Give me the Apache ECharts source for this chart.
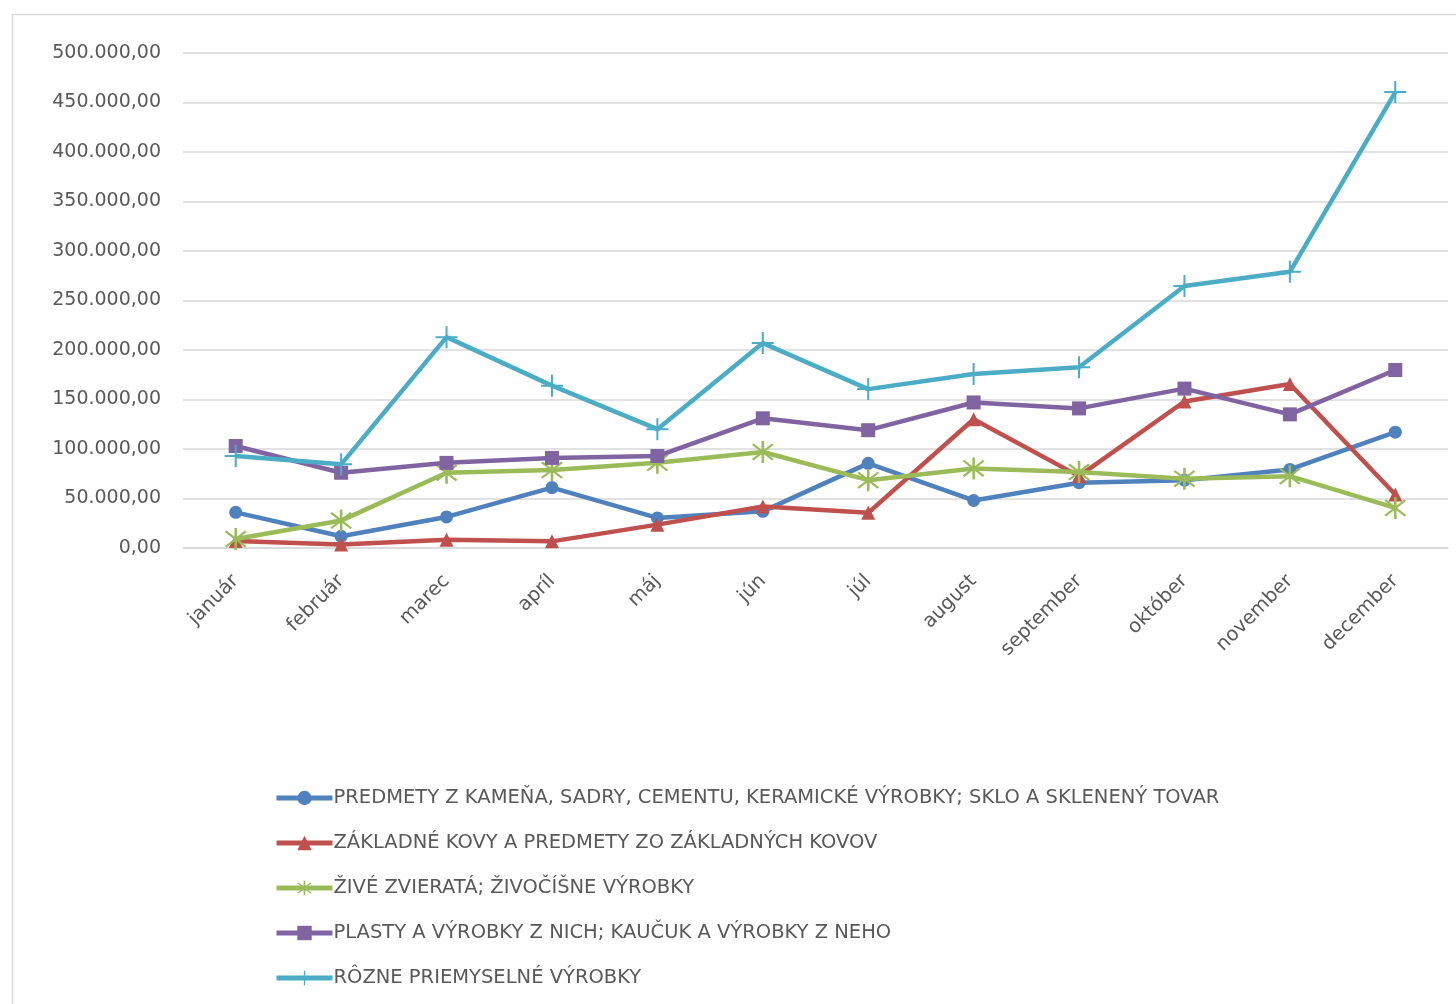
<!DOCTYPE html>
<html><head><meta charset="utf-8">
<script src="https://cdn.jsdelivr.net/npm/echarts@6/dist/echarts.min.js"></script>
<style>html,body{margin:0;padding:0;background:#fff}#c{width:1456px;height:1004px}</style>
</head><body><div id="c"></div>
<script>
const months = ['január','február','marec','apríl','máj','jún','júl','august','september','október','november','december'];
const seriesNames = [
  'PREDMETY Z KAMEŇA, SADRY, CEMENTU, KERAMICKÉ VÝROBKY; SKLO A SKLENENÝ TOVAR',
  'ZÁKLADNÉ KOVY A PREDMETY ZO ZÁKLADNÝCH KOVOV',
  'ŽIVÉ ZVIERATÁ; ŽIVOČÍŠNE VÝROBKY',
  'PLASTY A VÝROBKY Z NICH; KAUČUK A VÝROBKY Z NEHO',
  'RÔZNE PRIEMYSELNÉ VÝROBKY'
];
const kamen   = [36000, 11800, 31400, 61000, 30400, 37000, 85500, 48000, 66000, 68500, 79400, 117000];
const kovy    = [7000, 3500, 8400, 6700, 23600, 42000, 35500, 130000, 72600, 148000, 165600, 54000];
const zvierata= [9000, 27700, 76000, 78700, 86000, 97000, 68500, 80400, 76700, 70000, 72600, 40500];
const plasty  = [103000, 76000, 86000, 91000, 92900, 131000, 119000, 147000, 141000, 161000, 135000, 179800];
const rozne   = [92900, 84500, 213000, 164000, 120000, 207000, 160500, 175700, 182500, 264600, 279000, 460500];
const yTicks  = [0, 50000, 100000, 150000, 200000, 250000, 300000, 350000, 400000, 450000, 500000];

const colors = ['#4F81BD','#C0504D','#9BBB59','#8064A2','#4BACC6'];
const plusPath = 'path://M-1,-11L1,-11L1,-1L11,-1L11,1L1,1L1,11L-1,11L-1,1L-11,1L-11,-1L-1,-1Z';
const starPath = 'path://M-1,-11L1,-11L1,11L-1,11Z M-8.5,-7.1L-7.1,-8.5L8.5,7.1L7.1,8.5Z M7.1,-8.5L8.5,-7.1L-7.1,8.5L-8.5,7.1Z';

function fmt(v){
  const s = Math.round(v).toString().replace(/\B(?=(\d{3})+(?!\d))/g,'.');
  return s + ',00';
}
const font = '"DejaVu Sans", "Open Sans", sans-serif';
const data = [kamen, kovy, zvierata, plasty, rozne];
const symbols = ['circle','triangle',starPath,'rect',plusPath];
const sizes = [13, 14, 22, 14, 22];

const chart = echarts.init(document.getElementById('c'), null, {renderer:'canvas'});
chart.setOption({
  animation:false,
  backgroundColor:'#fff',
  color: colors,
  graphic:[{type:'rect', left:10, top:12, shape:{width:1480, height:1030}, style:{fill:'none', stroke:'#d9d9d9', lineWidth:1.5}, z:-1}],
  grid:{left:183, right:8, top:53, bottom:456, containLabel:false},
  legend:{
    orient:'vertical', left:274, top:788, height:216, padding:0,
    itemWidth:56, itemHeight:18, itemGap:25,
    lineStyle:{width:5},
    textStyle:{fontFamily:font, fontSize:19.5, color:'#595959', padding:[0,0,0,-4]},
    data: seriesNames
  },
  xAxis:{
    type:'category', data: months, boundaryGap:true,
    axisLine:{show:true, lineStyle:{color:'#d9d9d9', width:1.5}},
    axisTick:{show:false},
    axisLabel:{rotate:45, interval:0, margin:30, fontFamily:font, fontSize:19.5, color:'#595959'}
  },
  yAxis:{
    type:'value', min:yTicks[0], max:yTicks[yTicks.length-1], interval:50000,
    axisLine:{show:false}, axisTick:{show:false},
    splitLine:{lineStyle:{color:'#d9d9d9', width:1.5}},
    axisLabel:{formatter:fmt, margin:22, fontFamily:font, fontSize:19, color:'#595959'}
  },
  series: data.map((d,i)=>({
    name: seriesNames[i], type:'line', data:d,
    symbol: symbols[i], symbolSize: sizes[i], showSymbol:true,
    lineStyle:{width:4.5, color:colors[i]},
    itemStyle:{color:colors[i]},
    z: 2+i
  }))
});
</script></body></html>
